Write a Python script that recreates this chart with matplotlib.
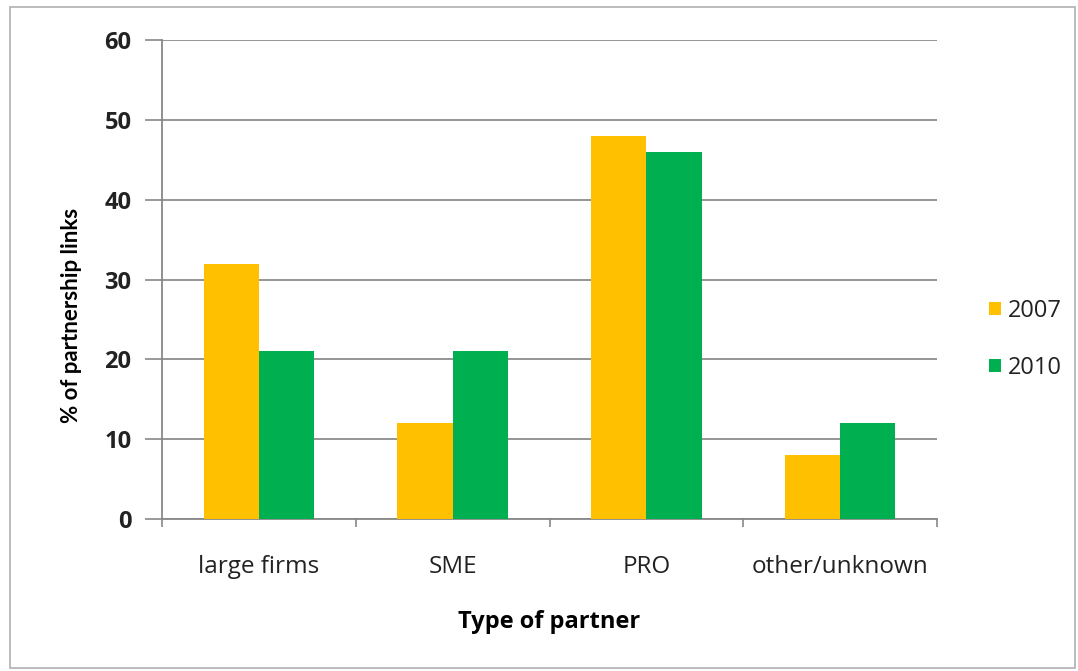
import matplotlib.pyplot as plt
import numpy as np
from matplotlib.patches import Rectangle

categories = ["large firms", "SME", "PRO", "other/unknown"]
years = ["2007", "2010"]
vals_2007 = [32, 12, 48, 8]
vals_2010 = [21, 21, 46, 12]
colors = ["#FFC000", "#00B050"]

plt.rcParams['font.family'] = ['Open Sans', 'DejaVu Sans']
plt.rcParams['text.color'] = '#222222'

fig = plt.figure(figsize=(10.78, 6.71), dpi=100)
ax = fig.add_axes([0.1503, 0.2265, 0.7189, 0.7139])

x = np.arange(len(categories))
w = 0.285
ax.bar(x - w / 2, vals_2007, w, color=colors[0], label=years[0], zorder=3)
ax.bar(x + w / 2, vals_2010, w, color=colors[1], label=years[1], zorder=3)

ax.set_xlim(-0.5, len(categories) - 0.5)
ax.set_ylim(0, 60)
ax.set_yticks(range(0, 61, 10))
ax.set_yticklabels([str(v) for v in range(0, 61, 10)], fontsize=17, fontweight='bold',
                   color='#222222')
ax.set_xticks(x)
ax.set_xticklabels(categories, fontsize=17.5, color='#222222')
ax.set_xticks(np.arange(-0.5, len(categories), 1), minor=True)
ax.tick_params(axis='x', which='major', length=0, pad=26)
ax.tick_params(axis='x', which='minor', length=6, color='#888888', width=1.2)
ax.tick_params(axis='y', length=12, color='#888888', width=1.2, pad=10)

ax.grid(axis='y', color='#8c8c8c', linewidth=1.3, zorder=0)
for s in ['top', 'right']:
    ax.spines[s].set_visible(False)
for s in ['left', 'bottom']:
    ax.spines[s].set_color('#888888')
    ax.spines[s].set_linewidth(1.3)

ax.set_ylabel("% of partnership links", fontsize=16, fontweight='bold',
              family=['Lato', 'DejaVu Sans'])
ax.yaxis.set_label_coords(-0.103, 0.426)
ax.set_xlabel("Type of partner", fontsize=17, fontweight='bold', labelpad=22)

ax.legend(loc='center left', bbox_to_anchor=(1.04, 0.375), frameon=False,
          fontsize=17, handlelength=0.5, handleheight=0.5, handletextpad=0.3,
          labelspacing=1.4)

fig.patches.append(Rectangle((0.0093, 0.005), 0.988, 0.985, transform=fig.transFigure,
                             fill=False, edgecolor='#b0b0b0', linewidth=1.2))

fig.savefig("out.png", dpi=100)
